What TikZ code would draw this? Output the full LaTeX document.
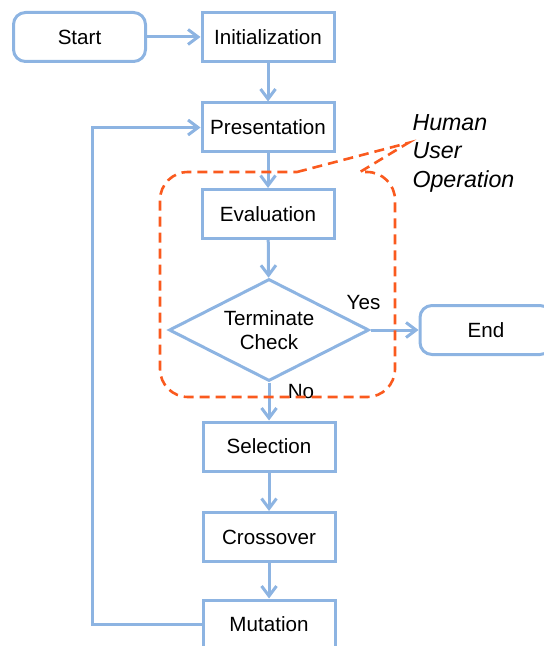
\documentclass[tikz,border=0pt]{standalone}
\usepackage{fontspec}
\setmainfont{Liberation Sans}
\usetikzlibrary{shapes.geometric,arrows.meta}
\definecolor{flow}{RGB}{141,180,226}
\definecolor{human}{RGB}{250,90,30}
\begin{document}
\begin{tikzpicture}[x=.5pt,y=-.5pt,line width=1.5pt,
  every node/.style={font=\fontsize{10.3}{12}\selectfont,inner sep=0pt},
  box/.style={draw=flow,rectangle,minimum width=66pt,minimum height=24.5pt},
  term/.style={box,rounded corners=6pt},
  test/.style={draw=flow,diamond,aspect=2,minimum width=100pt,minimum height=51pt,align=center}]
\useasboundingbox (0,0) rectangle (543,646);
\node[term] (st) at (79.5,37) {Start}; \node[box] (in) at (268,37) {Initialization};
\node[box] (pr) at (268,127.5) {Presentation}; \node[box] (ev) at (268,214) {Evaluation};
\node[test] (ck) at (269,330) {Terminate\\Check}; \node[term] (en) at (486,330) {End};
\node[box] (se) at (269,446.5) {Selection}; \node[box] (cr) at (269,537) {Crossover};
\node[box] (mu) at (269,624.5) {Mutation};
\node[font=\fontsize{11.6}{14.25}\selectfont\itshape,align=left,anchor=west] (hu)
  at (411,153) {Human\\User\\Operation};

  \path[draw=flow,-{Straight Barb[length=5pt,width=7.5pt]}] (st) edge (in) (in)
  edge (pr) (pr) edge (ev) (ev) edge (ck) (ck) edge node [pos=0,xshift=-3.5pt,
  yshift=13.5pt] {Yes} (en) edge node [pos=0,xshift=16pt,yshift=-4.5pt] {No}
  (se) (se) edge (cr) (cr) edge (mu);
  \draw[flow,-{Straight Barb[length=5pt,width=7.5pt]}] (mu.west) -- ++(-109,0)
  |- (pr.west);
  % dashed callout round the human steps
  \draw[human,line width=1.3pt,dash pattern=on 5pt off 3pt] (297,172) --
  (408,143) -- (360,172) -- (365,172) [rounded corners=14pt] -- (395,172) --
  (395,397) -- (160,397) -- (160,172) -- (297,172);
\end{tikzpicture}
\end{document}
